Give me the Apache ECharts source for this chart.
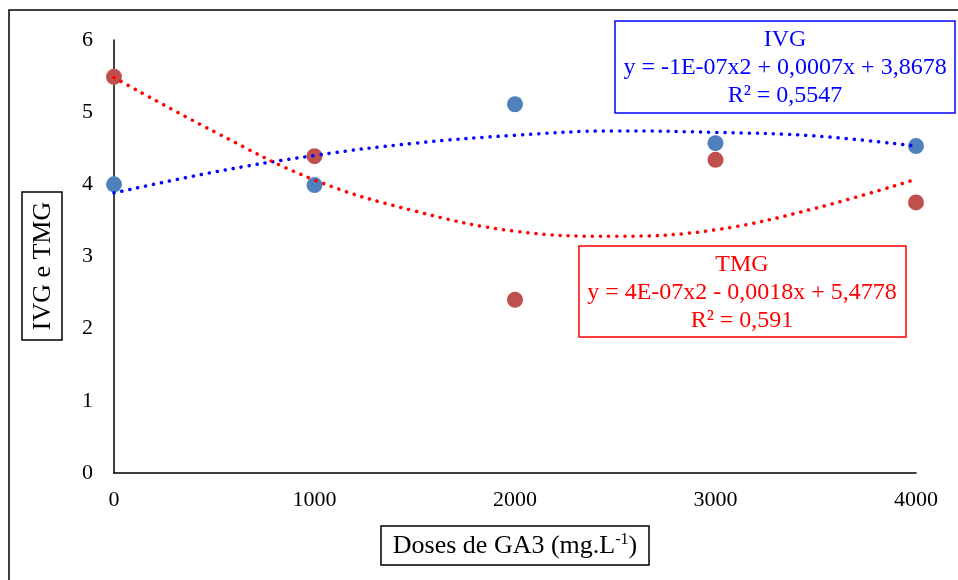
<!DOCTYPE html>
<html>
<head>
<meta charset="utf-8">
<script src="https://cdn.jsdelivr.net/npm/echarts@6/dist/echarts.min.js"></script>
<style>
  html, body { margin: 0; padding: 0; background: #fff; }
  #chart { width: 958px; height: 580px; }
</style>
</head>
<body>
<div id="chart"></div>
<script>
// doses de GA3
var doses = [0, 1000, 2000, 3000, 4000];
var ivg = [4.0, 3.99, 5.11, 4.57, 4.53];
var tmg = [5.49, 4.39, 2.40, 4.34, 3.75];

// linhas de tendencia
var trendX = [0, 500, 1000, 1500, 2000, 2500, 3000, 3500, 4000];
var ivgTrend = [3.88, 4.17, 4.40, 4.57, 4.68, 4.74, 4.72, 4.67, 4.53];
var tmgTrend = [5.48, 4.73, 4.06, 3.63, 3.35, 3.28, 3.37, 3.67, 4.07];

var yTicks = [0, 1, 2, 3, 4, 5, 6];

var FONT = '"Liberation Serif", "Times New Roman", serif';

function pairs(xs, ys) {
  return xs.map(function (x, i) { return [x, ys[i]]; });
}

var chart = echarts.init(document.getElementById('chart'), null, { renderer: 'canvas' });

var option = {
  animation: false,
  backgroundColor: '#fff',
  grid: { left: 114, right: 42, top: 40, bottom: 107, containLabel: false },
  xAxis: {
    type: 'value',
    min: 0, max: 4000, interval: 1000,
    axisLine: { show: true, lineStyle: { color: '#000', width: 1.5 } },
    axisTick: { show: false },
    splitLine: { show: false },
    axisLabel: {
      color: '#000', fontSize: 22, fontFamily: FONT, margin: 16,
      formatter: function (v) { return String(v); }
    }
  },
  yAxis: {
    type: 'value',
    min: yTicks[0], max: yTicks[yTicks.length - 1], interval: 1,
    axisLine: { show: true, lineStyle: { color: '#000', width: 1.5 } },
    axisTick: { show: false },
    splitLine: { show: false },
    axisLabel: { color: '#000', fontSize: 22, fontFamily: FONT, margin: 21 }
  },
  series: [
    {
      name: 'IVG', type: 'scatter', symbolSize: 16, z: 2,
      itemStyle: { color: '#4F81BD', opacity: 1 },
      data: pairs(doses, ivg)
    },
    {
      name: 'TMG', type: 'scatter', symbolSize: 16, z: 2,
      itemStyle: { color: '#C0504D', opacity: 1 },
      data: pairs(doses, tmg)
    },
    {
      name: 'IVG tendencia', type: 'line', smooth: 0.4, symbol: 'none', z: 5,
      lineStyle: { color: '#0000FF', width: 3.5, type: [0.1, 8], cap: 'round' },
      data: pairs(trendX, ivgTrend)
    },
    {
      name: 'TMG tendencia', type: 'line', smooth: 0.4, symbol: 'none', z: 5,
      lineStyle: { color: '#FF0000', width: 3.5, type: [0.1, 8], cap: 'round' },
      data: pairs(trendX, tmgTrend)
    }
  ],
  graphic: [
    // moldura
    { type: 'rect', shape: { x: 9, y: 10, width: 970, height: 620 }, style: { fill: 'none', stroke: '#000', lineWidth: 1.5 }, silent: true },
    // titulo eixo y
    { type: 'rect', shape: { x: 22, y: 192, width: 40, height: 148 }, style: { fill: '#fff', stroke: '#000', lineWidth: 1.5 } },
    {
      type: 'text', x: 43, y: 266, rotation: Math.PI / 2,
      style: { text: 'IVG e TMG', fill: '#000', font: '26px ' + FONT, align: 'center', verticalAlign: 'middle' }
    },
    // titulo eixo x
    { type: 'rect', shape: { x: 381, y: 526, width: 268, height: 39 }, style: { fill: '#fff', stroke: '#000', lineWidth: 1.5 } },
    {
      type: 'text', x: 515, y: 546,
      style: {
        text: '{a|Doses de GA3 (mg.L}{s|-1}{a|)}',
        align: 'center', verticalAlign: 'middle',
        rich: {
          a: { fontSize: 26, fontFamily: FONT, fill: '#000', color: '#000' },
          s: { fontSize: 16, fontFamily: FONT, fill: '#000', color: '#000', verticalAlign: 'top', padding: [0, 0, 12, 0] }
        }
      }
    },
    // equacao IVG
    { type: 'rect', shape: { x: 615, y: 21, width: 340, height: 92 }, style: { fill: '#fff', stroke: '#0000FF', lineWidth: 1.5 }, z: 10 },
    {
      type: 'text', x: 785, y: 68, z: 11,
      style: {
        text: 'IVG\ny = -1E-07x2 + 0,0007x + 3,8678\nR² = 0,5547',
        fill: '#0000FF', font: '24px ' + FONT, align: 'center', verticalAlign: 'middle', lineHeight: 28
      }
    },
    // equacao TMG
    { type: 'rect', shape: { x: 579, y: 246, width: 327, height: 91 }, style: { fill: '#fff', stroke: '#FF0000', lineWidth: 1.5 }, z: 10 },
    {
      type: 'text', x: 742, y: 293, z: 11,
      style: {
        text: 'TMG\ny = 4E-07x2 - 0,0018x + 5,4778\nR² = 0,591',
        fill: '#FF0000', font: '24px ' + FONT, align: 'center', verticalAlign: 'middle', lineHeight: 28
      }
    }
  ]
};

chart.setOption(option);
</script>
</body>
</html>
